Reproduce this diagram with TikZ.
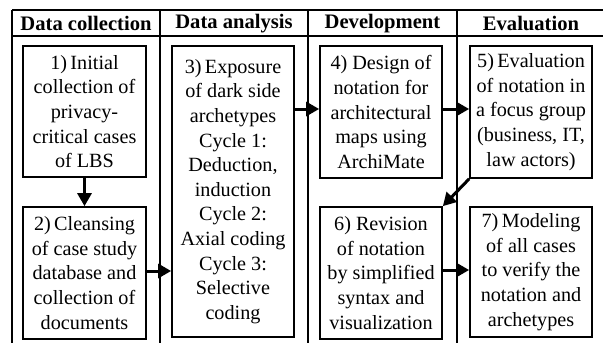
\documentclass[tikz,border=0pt]{standalone}
\usepackage{fontspec}
\setmainfont{Liberation Serif}
\usetikzlibrary{arrows.meta}
\tikzset{
  grid/.style={line width=1.1pt},
  box/.style={draw, line width=1.7pt, inner sep=0pt, align=center,
    font=\fontsize{20.2}{24.6}\selectfont},
  head/.style={font=\fontsize{20.6}{24}\selectfont\bfseries, inner sep=0pt},
  arr/.style={line width=3pt, -{Triangle[length=13pt,width=14pt]}}
}
\begin{document}
\begin{tikzpicture}[x=1pt,y=-1pt]
\useasboundingbox (0,0) rectangle (603,343);
% table grid
\coordinate (tl) at (12,10);
\coordinate (tr) at (603,10);
\coordinate (hl) at (12,36);
\coordinate (hr) at (603,36);
\draw[grid] (tl) -- (tr);
\draw[grid] (hl) -- (hr);
\foreach \x/\n in {12/a,160/b,308/c,457/d}{
  \coordinate (v\n1) at (\x,10);
  \coordinate (v\n2) at (\x,343);
  \draw[grid] (v\n1) -- (v\n2);
}
% headers
\node[head] (h1) at (86,23.5) {Data collection};
\node[head] (h2) at (234,23.5) {Data analysis};
\node[head] (h3) at (382.5,23.5) {Development};
\node[head] (h4) at (531,23.5) {Evaluation};
% boxes
\node[box, minimum width=123pt, minimum height=131pt] (b1) at (84.5,111.5)
  {1)\,Initial\\collection of\\privacy-\\critical cases\\of LBS};
\node[box, minimum width=123pt, minimum height=132pt] (b2) at (84.5,273)
  {2)\,Cleansing\\of case study\\database and\\collection of\\documents};
\node[box, minimum width=122pt, minimum height=291pt] (b3) at (233,191.5)
  {3)\,Exposure\\of dark side\\archetypes\\Cycle 1:\\Deduction,\\induction\\Cycle 2:\\Axial coding\\Cycle 3:\\Selective\\coding};
\node[box, minimum width=122pt, minimum height=132pt] (b4) at (381,112)
  {4) Design of\\notation for\\architectural\\maps using\\ArchiMate};
\node[box, minimum width=122pt, minimum height=132pt] (b5) at (531,112)
  {5)\,Evaluation\\of notation in\\a focus group\\(business, IT,\\law actors)};
\node[box, minimum width=122pt, minimum height=132pt] (b6) at (381,273)
  {6) Revision\\of notation\\by simplified\\syntax and\\visualization};
\node[box, minimum width=122pt, minimum height=130pt] (b7) at (531,272)
  {7)\,Modeling\\of all cases\\to verify the\\notation and\\archetypes};
% arrows
\draw[arr] (b1.south) -- (b2.north);
\draw[arr] ([yshift=2pt]b2.east) -- ([yshift=2pt]b2.east -| b3.west);
\draw[arr] ([yshift=3pt]b4.west -| b3.east) -- ([yshift=3pt]b4.west);
\draw[arr] ([yshift=3pt]b4.east) -- ([yshift=3pt]b5.west);
\draw[arr] (b5.south west) -- (b6.north east);
\draw[arr] ([yshift=3pt]b6.east) -- ([yshift=3pt]b6.east -| b7.west);
\end{tikzpicture}
\end{document}
